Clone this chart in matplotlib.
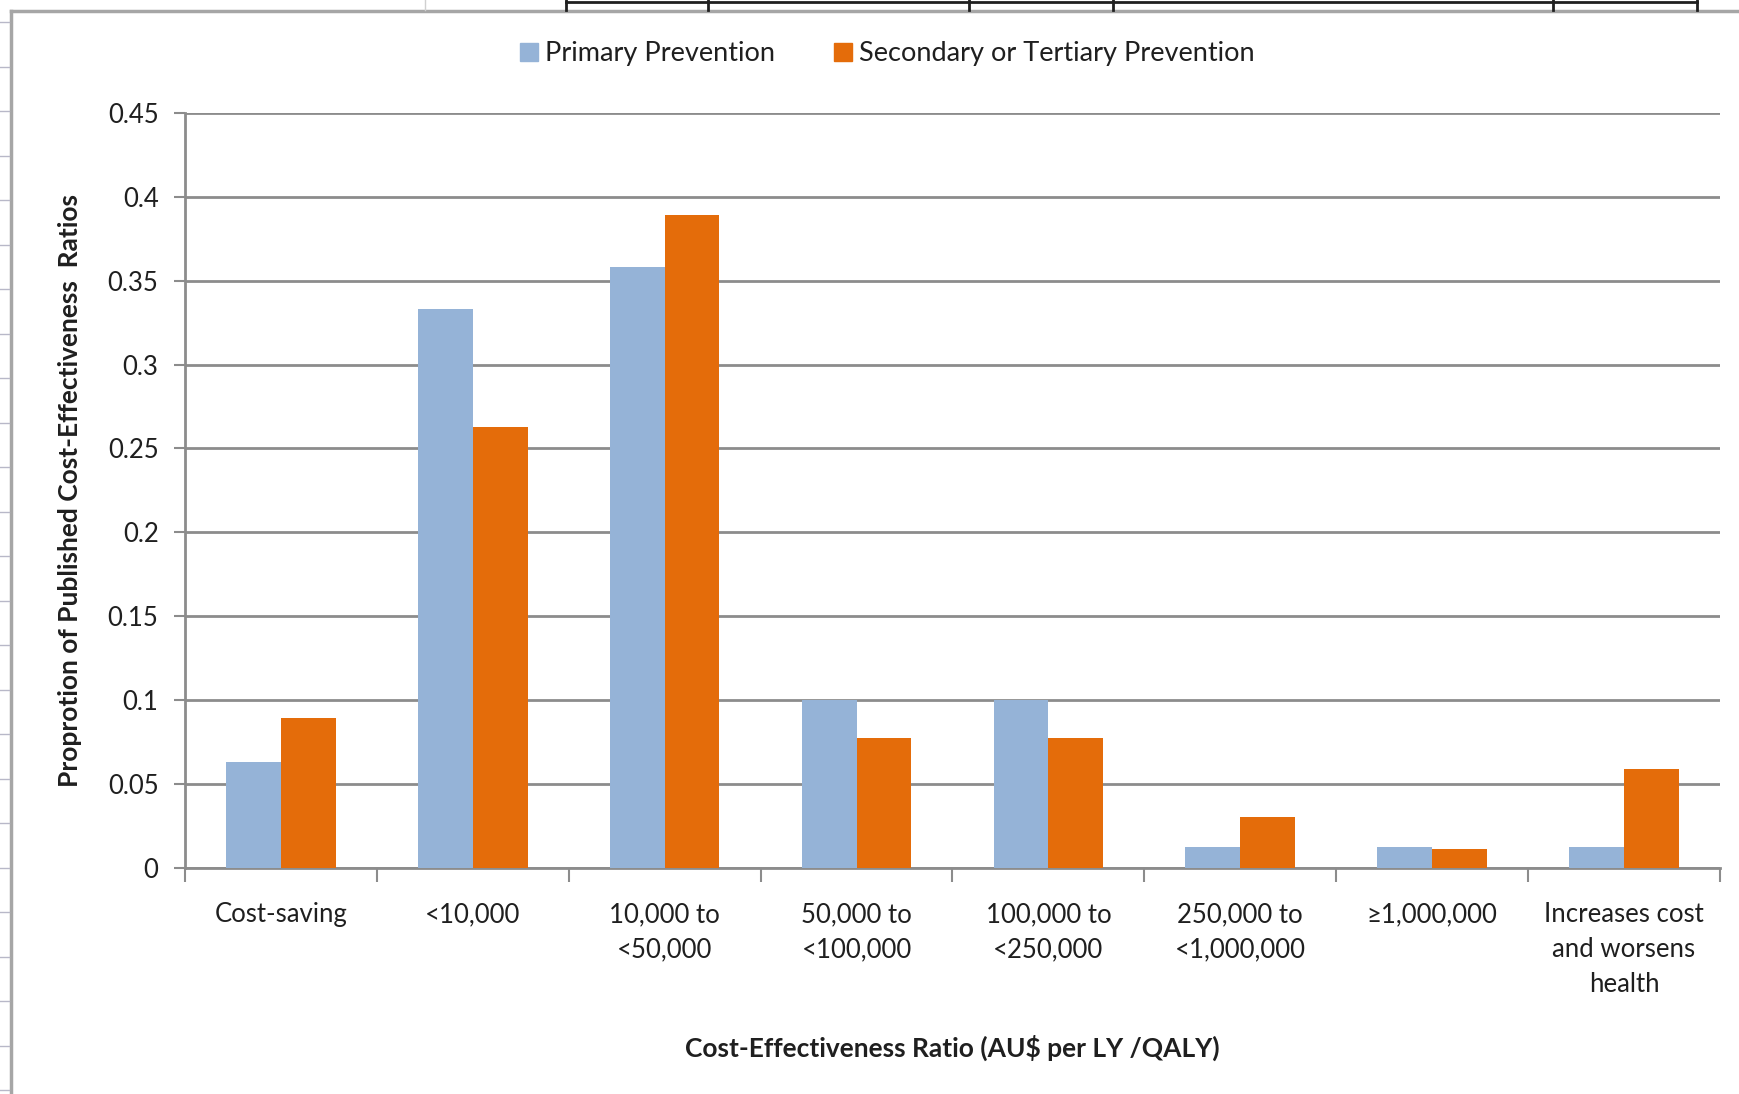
import matplotlib.pyplot as plt
import numpy as np
from matplotlib.lines import Line2D
from matplotlib.patches import Patch

# cost-effectiveness bands and the share of published ratios in each
categories = ["Cost-saving", "<10,000", "10,000 to\n<50,000", "50,000 to\n<100,000",
              "100,000 to\n<250,000", "250,000 to\n<1,000,000", "\u22651,000,000",
              "Increases cost\nand worsens\nhealth"]
primary = [0.063, 0.333, 0.358, 0.100, 0.100, 0.0125, 0.0125, 0.0125]
secondary = [0.089, 0.263, 0.389, 0.077, 0.077, 0.030, 0.011, 0.059]
yticks = [0, 0.05, 0.1, 0.15, 0.2, 0.25, 0.3, 0.35, 0.4, 0.45]
ytick_labels = ["0", "0.05", "0.1", "0.15", "0.2", "0.25", "0.3", "0.35", "0.4", "0.45"]

blue = "#95B3D7"
orange = "#E46C0A"
grid_grey = "#8C8C8C"
text_col = "#1F1F1F"

plt.rcParams["font.family"] = ["Lato", "DejaVu Sans"]

fig = plt.figure(figsize=(17.4, 10.94), dpi=100)
ax = fig.add_axes([0.1063, 0.207, 0.8822, 0.6897])

x = np.arange(len(categories))
w = 1 / 3.5
ax.bar(x - w / 2, primary, width=w, color=blue, zorder=3, label="Primary Prevention")
ax.bar(x + w / 2, secondary, width=w, color=orange, zorder=3,
       label="Secondary or Tertiary Prevention")

ax.set_xlim(-0.5, len(categories) - 0.5)
ax.set_ylim(0, 0.45)
ax.set_yticks(yticks)
ax.set_yticklabels(ytick_labels)
ax.yaxis.grid(True, color=grid_grey, linewidth=2, zorder=0)

# labels sit at the centres, tick marks at the category boundaries
ax.set_xticks(x)
ax.set_xticklabels(categories, linespacing=1.5)
ax.set_xticks(np.arange(len(categories) + 1) - 0.5, minor=True)
ax.tick_params(axis="x", which="major", length=0, pad=25, labelsize=18.5, labelcolor=text_col)
ax.tick_params(axis="x", which="minor", length=10, width=1.5, color=grid_grey)
ax.tick_params(axis="y", length=8, width=1.5, color=grid_grey, pad=11,
               labelsize=18.5, labelcolor=text_col)

for side in ["top", "right"]:
    ax.spines[side].set_visible(False)
for side in ["left", "bottom"]:
    ax.spines[side].set_color(grid_grey)
    ax.spines[side].set_linewidth(2)

ax.set_xlabel("Cost-Effectiveness Ratio (AU$ per LY /QALY)", fontsize=19,
              fontweight="bold", color=text_col)
ax.set_ylabel("Proprotion of Published Cost-Effectiveness  Ratios", fontsize=19,
              fontweight="bold", color=text_col)
ax.xaxis.set_label_coords(0.5, -0.221)
ax.yaxis.set_label_coords(-0.067, 0.5)

handles = [Patch(color=blue), Patch(color=orange)]
fig.legend(handles, ["Primary Prevention", "Secondary or Tertiary Prevention"],
           loc="center", bbox_to_anchor=(0.51, 0.951), ncol=2, frameon=False,
           fontsize=19.5, handlelength=0.65, handleheight=0.65, handletextpad=0.25,
           columnspacing=2.2, labelcolor=text_col)

# chart area border and the surrounding worksheet cells
W, H = 1740, 1094
def px_line(xs, ys, **kw):
    fig.add_artist(Line2D([v / W for v in xs], [1 - v / H for v in ys],
                          transform=fig.transFigure, **kw))

px_line([11, 11], [11, H], color="#A6A6A6", linewidth=2.5)
px_line([11, W], [11, 11], color="#A6A6A6", linewidth=2.5)
px_line([566, 1697], [2, 2], color="#202020", linewidth=2)
for cx in [566, 708, 969, 1113, 1553, 1697]:
    px_line([cx, cx], [0, 10], color="#202020", linewidth=2)
px_line([425, 425], [0, 10], color="#D0D0D0", linewidth=1)
for ry in np.arange(22, H, 44.5):
    px_line([0, 9], [ry, ry], color="#B8B8C8", linewidth=1)

fig.savefig("out.png", dpi=100, facecolor="white")
